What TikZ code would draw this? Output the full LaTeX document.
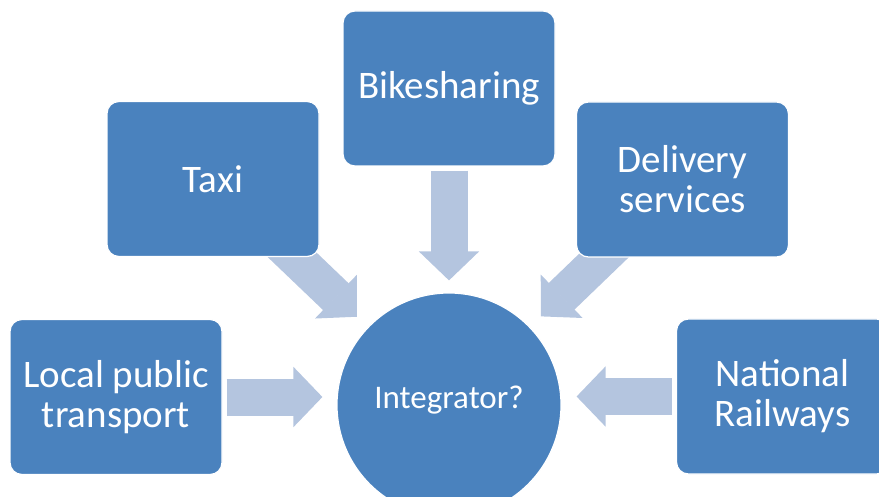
\documentclass[tikz,border=0pt]{standalone}
\usepackage{fontspec}
\setmainfont{Carlito}
\usepackage{tikz}
\usetikzlibrary{arrows.meta,backgrounds}
\tikzset{>=latex}
\usepackage{xcolor}
\definecolor{myblue}{HTML}{4A82BE}
\definecolor{myarrow}{HTML}{B4C5DF}

\begin{document}
\begin{tikzpicture}[x=1pt, y=1pt,
                    box/.style={draw=white, line width=1.2pt, fill=myblue, rounded corners=12pt,
                                minimum width=212pt, minimum height=155pt,
                                text=white, align=center, font=\fontsize{39}{40}\selectfont},
                    hub/.style={circle, draw=white, line width=1.2pt, fill=myblue,
                                minimum size=224pt, inner sep=0pt,
                                text=white, font=\fontsize{33}{36}\selectfont},
                    flow/.style={draw=myarrow, line width=37pt,
                                 -{Triangle[length=29pt, width=60pt, line width=2pt]}}]
  \useasboundingbox (0,0) rectangle (879,-497);

% Caixas de servicos
  \node[box] (bike)  at (449,-88.5)   {Bikesharing};
  \node[box] (taxi)  at (213,-179)    {Taxi};
  \node[box] (deliv) at (682.5,-179.5) {Delivery\\services};
  \node[box] (local) at (116,-397)    {Local public\\transport};
  \node[box] (rail)  at (782.5,-396.5) {National\\Railways};

% Circulo central
  \node[hub] (integ) at (449,-405) {\raisebox{16pt}{Integrator?}};

% Setas (atras das caixas)
  \begin{scope}[on background layer]
    \foreach \src in {taxi,deliv}{
      \draw[flow, shorten <=-30pt, shorten >=15pt] (\src) -- (integ);
    }
    \draw[flow, shorten <=4pt, shorten >=12pt] (bike) -- (integ);
    \draw[flow, shorten <=4pt, shorten >=14pt] (local) -- (local -| integ.west);
    \draw[flow, shorten <=4pt, shorten >=15pt] (rail) -- (rail -| integ.east);
  \end{scope}
\end{tikzpicture}
\end{document}
